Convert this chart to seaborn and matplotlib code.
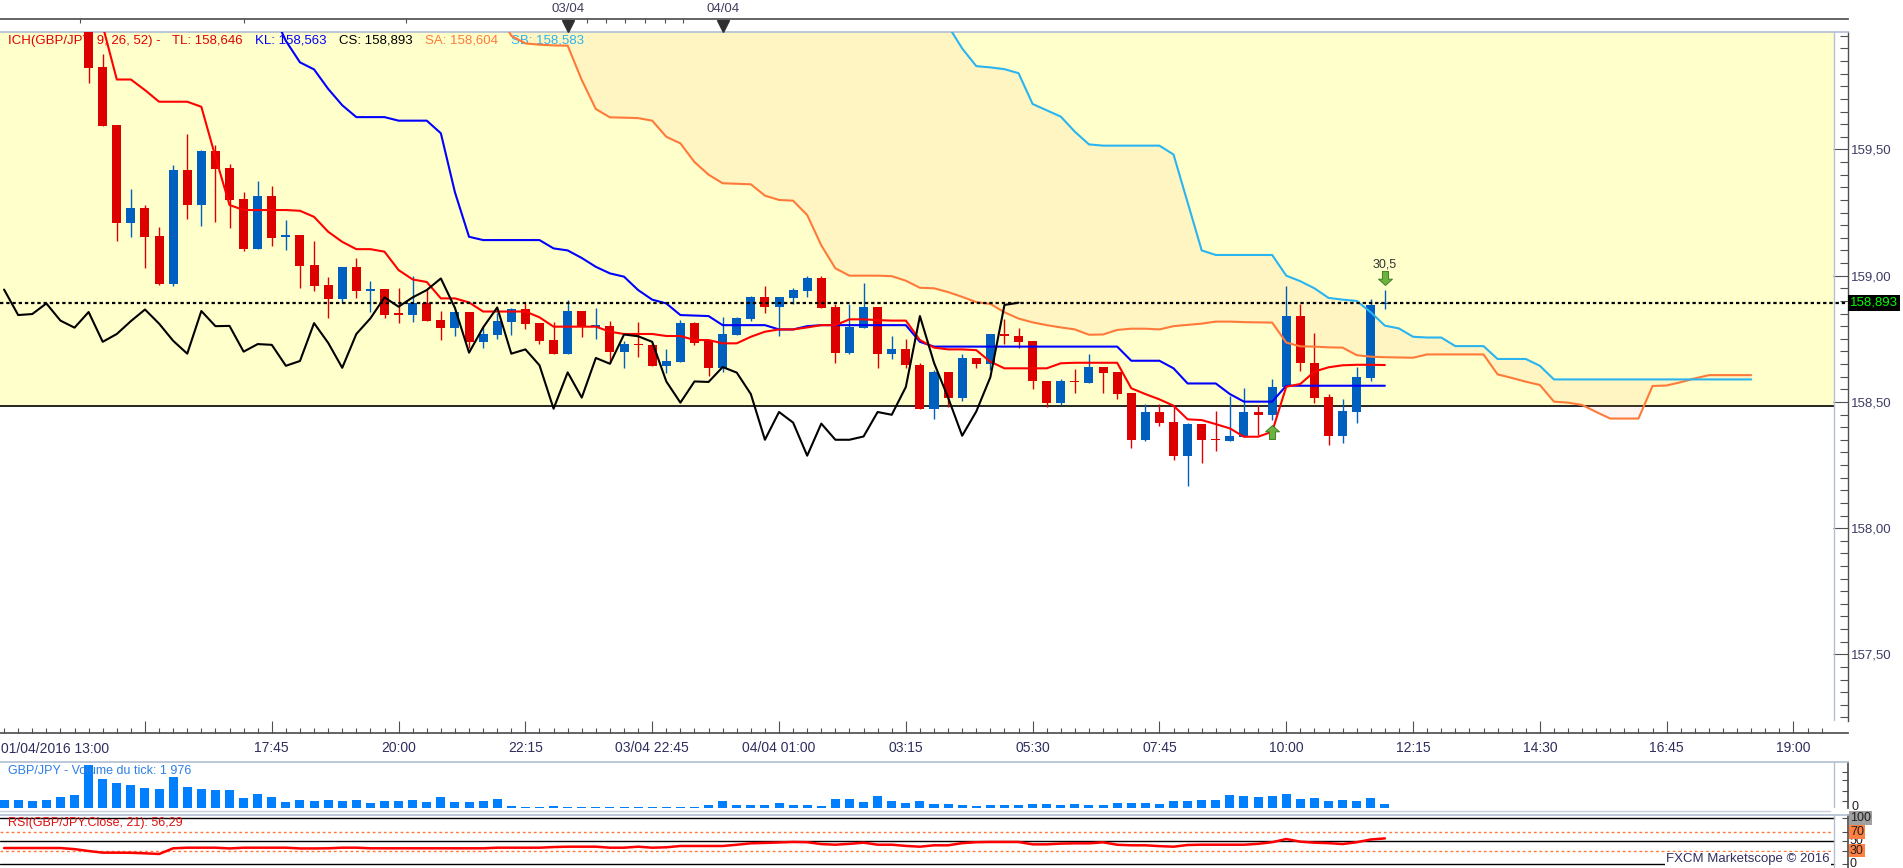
#!/usr/bin/env python
# coding: utf-8

import numpy as np
import matplotlib
matplotlib.use("Agg")
import matplotlib.pyplot as plt
from matplotlib import transforms
from matplotlib.lines import Line2D
from matplotlib.patches import Rectangle
from matplotlib.ticker import FuncFormatter, MultipleLocator
import seaborn as sns

# GBP/JPY 15 min bars, bar 0 = 01/04/2016 13:00
first_candle = 6
bar_open = [159.99, 159.825, 159.597, 159.210, 159.268, 159.157, 158.968, 159.418, 159.281, 159.493,
            159.426, 159.303, 159.105, 159.315, 159.155, 159.161, 159.042, 158.963, 158.909, 159.034,
            158.942, 158.948, 158.850, 158.845, 158.893, 158.824, 158.794, 158.856, 158.738, 158.766,
            158.818, 158.866, 158.812, 158.745, 158.691, 158.860, 158.799, 158.800, 158.699, 158.728,
            158.726, 158.643, 158.659, 158.812, 158.742, 158.635, 158.766, 158.829, 158.914, 158.877,
            158.913, 158.940, 158.989, 158.874, 158.695, 158.794, 158.874, 158.691, 158.708, 158.646,
            158.473, 158.617, 158.517, 158.674, 158.651, 158.767, 158.761, 158.741, 158.581, 158.497,
            158.581, 158.576, 158.638, 158.617, 158.535, 158.350, 158.460, 158.420, 158.287, 158.414,
            158.352, 158.345, 158.362, 158.460, 158.449, 158.559, 158.840, 158.656, 158.519, 158.366,
            158.461, 158.596, 158.886]
bar_high = [159.99, 159.880, 159.597, 159.343, 159.280, 159.191, 159.438, 159.561, 159.497, 159.517,
            159.442, 159.331, 159.375, 159.356, 159.220, 159.161, 159.137, 158.994, 159.034, 159.070,
            158.980, 158.948, 158.950, 158.998, 158.943, 158.861, 158.860, 158.856, 158.795, 158.851,
            158.873, 158.896, 158.812, 158.816, 158.903, 158.860, 158.872, 158.820, 158.741, 158.816,
            158.734, 158.709, 158.824, 158.816, 158.742, 158.835, 158.837, 158.919, 158.959, 158.914,
            158.952, 158.998, 158.998, 158.886, 158.888, 158.972, 158.874, 158.760, 158.748, 158.654,
            158.626, 158.617, 158.688, 158.674, 158.767, 158.828, 158.792, 158.741, 158.581, 158.591,
            158.630, 158.690, 158.638, 158.617, 158.535, 158.492, 158.492, 158.484, 158.418, 158.414,
            158.464, 158.525, 158.556, 158.488, 158.591, 158.960, 158.886, 158.771, 158.531, 158.511,
            158.637, 158.906, 158.943]
bar_low = [159.764, 159.594, 159.138, 159.154, 159.031, 158.965, 158.960, 159.224, 159.198, 159.214,
           159.190, 159.099, 159.105, 159.117, 159.101, 158.951, 158.940, 158.833, 158.890, 158.913,
           158.857, 158.833, 158.814, 158.818, 158.820, 158.745, 158.762, 158.712, 158.715, 158.748,
           158.765, 158.787, 158.729, 158.691, 158.691, 158.758, 158.749, 158.653, 158.635, 158.679,
           158.643, 158.616, 158.659, 158.725, 158.602, 158.620, 158.766, 158.822, 158.851, 158.762,
           158.886, 158.917, 158.872, 158.655, 158.688, 158.794, 158.635, 158.671, 158.635, 158.473,
           158.433, 158.481, 158.503, 158.635, 158.626, 158.730, 158.712, 158.552, 158.481, 158.489,
           158.536, 158.576, 158.536, 158.511, 158.319, 158.344, 158.406, 158.270, 158.168, 158.259,
           158.307, 158.345, 158.362, 158.369, 158.428, 158.559, 158.622, 158.494, 158.331, 158.338,
           158.418, 158.581, 158.868]
bar_close = [159.823, 159.594, 159.210, 159.268, 159.154, 158.968, 159.418, 159.281, 159.493, 159.423,
             159.301, 159.105, 159.315, 159.150, 159.158, 159.039, 158.959, 158.909, 159.034, 158.940,
             158.945, 158.844, 158.848, 158.890, 158.822, 158.794, 158.856, 158.738, 158.769, 158.820,
             158.866, 158.810, 158.742, 158.691, 158.860, 158.800, 158.801, 158.699, 158.729, 158.726,
             158.643, 158.662, 158.812, 158.734, 158.635, 158.769, 158.831, 158.914, 158.877, 158.914,
             158.943, 158.989, 158.872, 158.695, 158.795, 158.874, 158.691, 158.708, 158.645, 158.473,
             158.617, 158.517, 158.674, 158.651, 158.767, 158.760, 158.738, 158.581, 158.497, 158.581,
             158.579, 158.638, 158.616, 158.531, 158.350, 158.460, 158.418, 158.287, 158.414, 158.350,
             158.350, 158.363, 158.460, 158.449, 158.559, 158.840, 158.655, 158.517, 158.366, 158.462,
             158.598, 158.884, 158.893]

# Ichimoku lines
first_tenkan = 7
tenkan = [159.99, 159.777, 159.777, 159.735, 159.689, 159.689, 159.689, 159.669, 159.471, 159.280,
          159.260, 159.260, 159.260, 159.260, 159.257, 159.233, 159.174, 159.134, 159.105, 159.105,
          159.095, 159.022, 158.985, 158.975, 158.910, 158.910, 158.894, 158.858, 158.858, 158.858,
          158.858, 158.835, 158.798, 158.798, 158.798, 158.798, 158.778, 158.769, 158.769, 158.769,
          158.761, 158.761, 158.745, 158.745, 158.732, 158.732, 158.758, 158.778, 158.787, 158.787,
          158.795, 158.804, 158.804, 158.827, 158.827, 158.824, 158.822, 158.822, 158.745, 158.715,
          158.708, 158.708, 158.705, 158.659, 158.633, 158.633, 158.633, 158.633, 158.653, 158.655,
          158.655, 158.655, 158.655, 158.554, 158.531, 158.510, 158.485, 158.431, 158.428, 158.412,
          158.395, 158.362, 158.362, 158.382, 158.560, 158.571, 158.620, 158.637, 158.645, 158.647,
          158.647, 158.646]
first_kijun = 19
kijun = [160.05, 159.93, 159.845, 159.817, 159.74, 159.675, 159.628, 159.628, 159.628, 159.614,
         159.614, 159.614, 159.564, 159.33, 159.154, 159.141, 159.141, 159.141, 159.141, 159.141,
         159.108, 159.100, 159.070, 159.035, 159.009, 158.996, 158.943, 158.905, 158.890, 158.844,
         158.842, 158.840, 158.804, 158.804, 158.804, 158.804, 158.787, 158.787, 158.800, 158.804,
         158.804, 158.804, 158.804, 158.804, 158.804, 158.804, 158.738, 158.719, 158.719, 158.719,
         158.719, 158.719, 158.719, 158.719, 158.719, 158.719, 158.719, 158.719, 158.719, 158.719,
         158.719, 158.663, 158.663, 158.663, 158.633, 158.573, 158.573, 158.573, 158.531, 158.501,
         158.501, 158.501, 158.564, 158.564, 158.564, 158.564, 158.564, 158.564, 158.564, 158.564]
first_span_a = 35
span_a = [160.05, 159.95, 159.92, 159.915, 159.912, 159.911, 159.775, 159.660, 159.627, 159.626,
          159.624, 159.614, 159.550, 159.524, 159.45, 159.40, 159.366, 159.364, 159.362, 159.317,
          159.300, 159.297, 159.240, 159.120, 159.029, 159.000, 159.000, 159.000, 158.998, 158.980,
          158.952, 158.950, 158.935, 158.916, 158.895, 158.888, 158.855, 158.830, 158.815, 158.804,
          158.795, 158.787, 158.766, 158.767, 158.785, 158.790, 158.790, 158.787, 158.800, 158.805,
          158.810, 158.818, 158.818, 158.816, 158.815, 158.814, 158.735, 158.720, 158.719, 158.716,
          158.715, 158.685, 158.679, 158.677, 158.676, 158.675, 158.688, 158.688, 158.688, 158.688,
          158.688, 158.609, 158.595, 158.580, 158.567, 158.501, 158.497, 158.488, 158.460, 158.434,
          158.434, 158.434, 158.563, 158.565, 158.578, 158.593, 158.606, 158.606, 158.606, 158.606]
first_span_b = 67
span_b = [159.99, 159.90, 159.830, 159.825, 159.818, 159.802, 159.680, 159.655, 159.630, 159.570,
          159.520, 159.515, 159.515, 159.515, 159.515, 159.515, 159.480, 159.290, 159.100, 159.082,
          159.082, 159.082, 159.082, 159.082, 159.000, 158.978, 158.950, 158.912, 158.905, 158.900,
          158.855, 158.802, 158.791, 158.758, 158.755, 158.755, 158.721, 158.721, 158.721, 158.670,
          158.670, 158.670, 158.643, 158.589, 158.589, 158.589, 158.589, 158.589, 158.589, 158.589,
          158.589, 158.589, 158.589, 158.589, 158.589, 158.589, 158.589, 158.589]
chikou_shift = 26
last_price = 158.893
base_level = 158.485

tick_volume = [4140, 4140, 3600, 4140, 5760, 7020, 23040, 15480, 13320, 12240,
               10620, 10080, 16560, 11160, 10080, 9540, 9540, 5220, 7380, 5760,
               3060, 4140, 3600, 4140, 3600, 4140, 2520, 3600, 3600, 4140,
               3060, 5760, 3060, 3060, 3600, 4680, 900, 360, 360, 900,
               180, 180, 180, 180, 180, 180, 180, 180, 180, 540,
               1440, 3600, 1440, 1440, 1440, 2520, 1440, 1440, 900, 4500,
               4500, 3240, 6300, 3600, 2700, 3600, 1980, 1980, 1440, 720,
               1440, 1440, 1440, 1980, 1980, 1440, 1980, 1440, 1440, 2340,
               2520, 2520, 1980, 3600, 3600, 4140, 4140, 6840, 6300, 5760,
               6300, 7380, 4680, 5220, 3600, 4140, 3600, 5220, 1976]
rsi = [35.4, 35.4, 35.4, 35.4, 35.4, 33.0, 28.9, 25.3, 25.3, 25.0,
       23.9, 22.4, 34.8, 36.1, 36.1, 36.1, 34.5, 36.1, 36.1, 36.1,
       36.1, 34.5, 34.5, 34.8, 36.1, 36.1, 34.8, 34.8, 34.8, 34.8,
       34.8, 34.8, 34.8, 34.8, 34.8, 36.1, 36.1, 36.1, 36.1, 37.5,
       38.3, 38.3, 38.3, 36.1, 36.1, 38.3, 36.1, 37.0, 39.8, 39.8,
       39.8, 39.8, 42.5, 45.6, 46.5, 47.5, 48.5, 48.0, 44.0, 42.6,
       44.5, 47.0, 42.6, 42.6, 40.0, 38.3, 41.3, 41.3, 46.0, 48.0,
       48.5, 48.5, 48.5, 43.4, 43.4, 45.0, 45.6, 45.6, 47.8, 42.5,
       41.3, 41.3, 39.5, 38.3, 42.0, 42.6, 42.6, 42.6, 42.6, 44.5,
       48.0, 55.0, 49.2, 47.0, 46.0, 44.0, 48.0, 54.0, 56.3]

time_labels = ["", "17:45", "20:00", "22:15", "03/04 22:45", "04/04 01:00", "03:15",
               "05:30", "07:45", "10:00", "12:15", "14:30", "16:45", "19:00"]
day_marks = {"03/04": 40, "04/04": 51}

RED, BLUE = "#DC0000", "#0060C0"

sns.set_theme(style="white")
plt.rcParams["font.family"] = ["Liberation Sans", "DejaVu Sans"]

W, H = 1903, 868
fig = plt.figure(figsize=(W / 100, H / 100), dpi=100)
fig.patch.set_facecolor("white")


def area(x0, y0, x1, y1):
    return fig.add_axes([x0 / W, 1 - y1 / H, (x1 - x0) / W, (y1 - y0) / H])


def fx(px):
    return px / W


def fy(px):
    return 1 - px / H


X0, X1, XB = -0.29, 130.87, 129.87
Y_BOT, Y_TOP = 157.236, 159.964
BORDER = "#B4C0D4"
DARK = "#505050"

# ---------------- main price panel
ax = area(0, 32.3, 1848, 721)
ax.set_facecolor("white")
ax.add_patch(Rectangle((X0, base_level), XB - X0, Y_TOP - base_level + 0.2,
                       facecolor="#FFFFCC", lw=0, zorder=0.5))
ax.plot([X0, XB], [base_level, base_level], color="black", lw=1.2, zorder=1)
ax.axvline(XB, color=BORDER, lw=1, zorder=1)

# cloud
xa = np.arange(first_span_a, first_span_a + len(span_a))
sa = np.array(span_a)
upper = np.full(len(sa), Y_TOP + 0.3)
xb = np.arange(first_span_b, first_span_b + len(span_b))
upper[xb - first_span_a] = span_b
ax.fill_between(xa, sa, upper, color="#FF9966", alpha=0.09, lw=0, zorder=1.5)

# candles
o = np.array(bar_open)
h = np.array(bar_high)
l = np.array(bar_low)
c = np.array(bar_close)
xi = np.arange(first_candle, first_candle + len(o))
cols = np.where(c > o, BLUE, RED)
ax.vlines(xi, l, h, colors=cols, lw=1.0, zorder=3)
body = np.abs(c - o)
doji = body < 0.006
bottom = np.where(doji, (o + c) / 2 - 0.003, np.minimum(o, c))
ax.bar(xi, np.maximum(body, 0.006), bottom=bottom, width=0.64, color=cols, lw=0, zorder=3)

# indicator lines
sns.lineplot(x=xa, y=span_a, ax=ax, color="#FF7A3A", lw=1.5, estimator=None, sort=False, zorder=4)
sns.lineplot(x=xb, y=span_b, ax=ax, color="#2AB4F0", lw=1.5, estimator=None, sort=False, zorder=4)
sns.lineplot(x=np.arange(first_kijun, first_kijun + len(kijun)), y=kijun, ax=ax,
             color="#0000FF", lw=1.5, estimator=None, sort=False, zorder=4)
sns.lineplot(x=np.arange(first_tenkan, first_tenkan + len(tenkan)), y=tenkan, ax=ax,
             color="#FF0000", lw=1.5, estimator=None, sort=False, zorder=4)
chikou = c[chikou_shift - first_candle:]
sns.lineplot(x=np.arange(len(chikou)), y=chikou, ax=ax, color="black", lw=1.5,
             estimator=None, sort=False, zorder=4)

ax.axhline(last_price, color="black", lw=1.6, linestyle=(0, (1.5, 1.3)), zorder=6)

# signal arrows
up_arrow = [(-0.22, -0.5), (0.22, -0.5), (0.22, 0.05), (0.5, 0.05), (0, 0.5),
            (-0.5, 0.05), (-0.22, 0.05), (-0.22, -0.5)]
down_arrow = [(x, -y) for x, y in up_arrow]
ax.plot(90, 158.382, marker=up_arrow, ms=10, color="#6DB33F", mec="#3F7F1F", mew=0.7, zorder=7)
ax.plot(98, 158.992, marker=down_arrow, ms=10, color="#6DB33F", mec="#3F7F1F", mew=0.7, zorder=7)
ax.text(98, 159.045, "30,5", ha="center", va="center", fontsize=9, color="#333333", zorder=7)

ax.set_xlim(X0, X1)
ax.set_ylim(Y_BOT, Y_TOP)
ax.set_xlabel("")
ax.set_ylabel("")
ax.set_xticks([])
ax.yaxis.tick_right()
ax.set_yticks([157.5, 158.0, 158.5, 159.0, 159.5])
ax.yaxis.set_minor_locator(MultipleLocator(0.05))
ax.yaxis.set_major_formatter(FuncFormatter(lambda v, p: f"{v:.2f}".replace(".", ",")))
ax.tick_params(axis="y", which="major", direction="in", right=True, left=False, length=10.5,
               width=0.8, color=DARK, pad=2, labelsize=9.5, labelcolor="#3C3C64")
ax.tick_params(axis="y", which="minor", direction="in", right=True, left=False, length=6,
               width=0.8, color=DARK)
for side in ["left", "bottom"]:
    ax.spines[side].set_visible(False)
ax.spines["top"].set_color(BORDER)
ax.spines["right"].set_color(DARK)
ax.spines["right"].set_linewidth(1)

blend = transforms.blended_transform_factory(ax.transAxes, ax.transData)
ax.text(1.0 + 2 / 1848, last_price, "158,893", transform=blend, ha="left", va="center",
        fontsize=9.5, color="#00FF00", zorder=8,
        bbox=dict(facecolor="black", edgecolor="none", pad=1.4))

legend_parts = [("ICH(GBP/JPY, 9, 26, 52) -", "#E00000", 8),
                ("TL: 158,646", "#E00000", 172),
                ("KL: 158,563", "#0000FF", 255),
                ("CS: 158,893", "black", 339),
                ("SA: 158,604", "#FF7A3A", 425),
                ("SB: 158,583", "#2AB4F0", 511)]
for txt, col, px in legend_parts:
    ax.text(fx(px), fy(40.7), txt, transform=fig.transFigure, color=col, fontsize=9.5,
            ha="left", va="center", zorder=2.5)

# ---------------- time axis
axt = area(0, 721, 1848, 733.3)
axt.set_xlim(X0, X1)
axt.set_ylim(0, 1)
axt.patch.set_alpha(0)
for side in ["left", "top", "right"]:
    axt.spines[side].set_visible(False)
axt.spines["bottom"].set_color(DARK)
axt.set_yticks([])
axt.set_xticks([10 + 9 * k for k in range(len(time_labels))])
axt.set_xticklabels(time_labels)
axt.set_xticks(np.arange(0, 130), minor=True)
axt.tick_params(axis="x", which="major", direction="in", bottom=True, length=8.6, width=0.8,
                color=DARK, pad=5.5, labelsize=10, labelcolor="#2E2E5E")
axt.tick_params(axis="x", which="minor", direction="in", bottom=True, length=3.6, width=0.8,
                color=DARK)
fig.text(fx(1), fy(749), "01/04/2016 13:00", ha="left", va="center", fontsize=10, color="#2E2E5E")

# ---------------- top date strip
axtop = area(0, 19.3, 1848, 32.3)
axtop.set_xlim(X0, X1)
axtop.set_ylim(0, 1)
axtop.patch.set_alpha(0)
for side in ["left", "bottom", "right"]:
    axtop.spines[side].set_visible(False)
axtop.spines["top"].set_color(DARK)
axtop.set_yticks([])
axtop.xaxis.tick_top()
axtop.set_xticks([5.4, 17.0, 28.5, 41.4, 42.7, 44.1, 45.5, 46.9, 48.2])
axtop.tick_params(axis="x", direction="in", top=True, bottom=False, length=3, width=0.8,
                  color=DARK, labeltop=False, labelbottom=False)
for lab, pos in day_marks.items():
    axtop.plot(pos, 0.5, marker="v", ms=8, color="#303030", clip_on=False)
    fig.text(fx(4.1 + 14.09 * pos), fy(9.3), lab, ha="center", va="center", fontsize=9.5,
             color="#404060")

# ---------------- volume panel
axv = area(0, 762, 1848, 807.7)
sns.barplot(x=np.arange(len(tick_volume)), y=tick_volume, ax=axv, native_scale=True,
            color="#0080FF", width=0.64, saturation=1, errorbar=None, linewidth=0)
axv.axvline(XB, color=BORDER, lw=1)
axv.set_xlim(X0, X1)
axv.set_ylim(0, 24660)
axv.set_xlabel("")
axv.set_ylabel("")
axv.set_xticks([])
axv.yaxis.tick_right()
axv.set_yticks([3600, 9000, 14900, 19400])
axv.set_yticklabels([])
axv.tick_params(axis="y", direction="in", right=True, left=False, length=4, width=0.8, color=DARK)
for side in ["left", "bottom"]:
    axv.spines[side].set_visible(False)
axv.spines["top"].set_color(BORDER)
axv.spines["right"].set_color(DARK)
fig.text(fx(8), fy(770.7), "GBP/JPY - Volume du tick: 1 976", ha="left", va="center",
         fontsize=9, color="#2C7FE8")
fig.text(fx(1851), fy(807), "0", ha="left", va="center", fontsize=9, color="#202020")
fig.add_artist(Line2D([0, fx(1830)], [fy(810.5), fy(810.5)], color="#C8D0DC", lw=1))

# ---------------- RSI panel
axr = area(0, 815, 1848, 868)
sns.lineplot(x=np.arange(len(rsi)), y=rsi, ax=axr, color="#FF0000", lw=1.8,
             estimator=None, sort=False, zorder=4)
for lvl in [100, 50, 0]:
    axr.plot([X0, XB], [lvl, lvl], color="black", lw=1.0, zorder=2)
for lvl in [70, 30]:
    axr.plot([X0, XB], [lvl, lvl], color="#FF7A3A", lw=1.0, linestyle=(0, (2, 2)), zorder=2)
axr.axvline(XB, color=BORDER, lw=1)
axr.set_xlim(X0, X1)
axr.set_ylim(-8.04, 107.2)
axr.set_xlabel("")
axr.set_ylabel("")
axr.set_xticks([])
axr.yaxis.tick_right()
axr.set_yticks([100, 70, 50, 30, 0])
axr.set_yticklabels([])
axr.tick_params(axis="y", direction="in", right=True, left=False, length=4, width=0.8, color=DARK)
for side in ["left", "bottom"]:
    axr.spines[side].set_visible(False)
axr.spines["top"].set_color(BORDER)
axr.spines["right"].set_color(DARK)
rblend = transforms.blended_transform_factory(axr.transAxes, axr.transData)
for lvl, bg in [(50, None), (100, "#A0A0A0"), (70, "#FF8040"), (30, "#FF8040"), (0, None)]:
    kw = dict(bbox=dict(facecolor=bg, edgecolor="none", pad=0.6)) if bg else {}
    axr.text(1.0 + 2 / 1848, lvl, str(lvl), transform=rblend, ha="left", va="center",
             fontsize=9, color="#202020", clip_on=False, **kw)
fig.text(fx(8), fy(823.3), "RSI(GBP/JPY.Close, 21): 56,29", ha="left", va="center",
         fontsize=9, color="#E01010")
fig.text(fx(1830), fy(859), "FXCM Marketscope \u00a9 2016", ha="right", va="center",
         fontsize=9.5, color="#303060", bbox=dict(facecolor="white", edgecolor="none", pad=1))

fig.savefig("out.png", dpi=100)
